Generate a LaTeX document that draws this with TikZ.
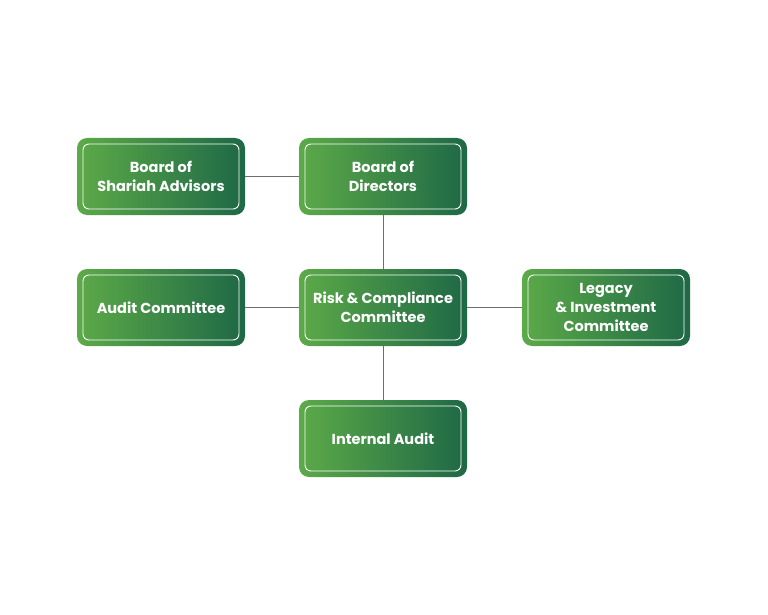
\documentclass[tikz,border=0pt]{standalone}
\usepackage{fontspec}
\setmainfont{Poppins}
\usetikzlibrary{shapes,positioning,calc}
\usepackage{xcolor}
\definecolor{leafgreen}{RGB}{92,170,72}
\definecolor{deepgreen}{RGB}{30,104,70}
\definecolor{linkgray}{RGB}{110,110,110}

\tikzset{
    govbox/.style={rectangle, rounded corners=10pt, left color=leafgreen, right color=deepgreen,
        minimum width=168pt, minimum height=77pt, inner sep=0pt, text=white, align=center,
        font=\fontsize{14.5}{19}\selectfont\bfseries,
        path picture={\draw[white, line width=0.9pt, rounded corners=6pt]
            ([shift={(6pt,6pt)}]path picture bounding box.south west) rectangle
            ([shift={(-6pt,-6pt)}]path picture bounding box.north east);}},
    link/.style={draw=linkgray, line width=0.9pt}
}

\begin{document}
\begin{tikzpicture}[x=1pt, y=-1pt]
    \useasboundingbox (0,0) rectangle (768,615);

    \node[govbox] (shariah) at (161,176.5) {Board of\\Shariah Advisors};
    \node[govbox] (directors) at (383,176.5) {Board of\\Directors};
    \node[govbox] (audit) at (161,307.5) {Audit Committee};
    \node[govbox] (risk) at (383,307.5) {Risk \& Compliance\\Committee};
    \node[govbox] (legacy) at (606,307.5) {Legacy\\\& Investment\\Committee};
    \node[govbox] (internal) at (383,438.5) {Internal Audit};

    \draw[link] (shariah) -- (directors);
    \draw[link] (directors) -- (risk);
    \draw[link] (audit) -- (risk);
    \draw[link] (risk) -- (legacy);
    \draw[link] (risk) -- (internal);
\end{tikzpicture}
\end{document}
